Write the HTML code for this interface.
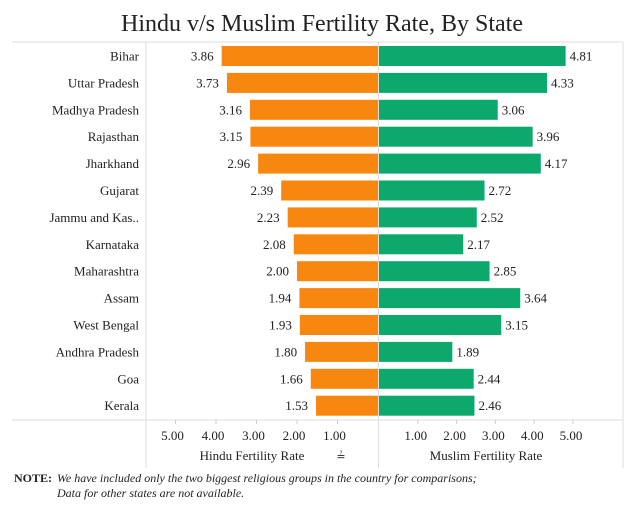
<!DOCTYPE html>
<html><head><meta charset="utf-8"><style>
body{margin:0;background:#fff;font-family:"Liberation Serif",serif;}
svg text{font-family:"Liberation Serif",serif;fill:#222;}
</style></head><body>
<svg width="643" height="504">
<text x="322" y="31" font-size="24" text-anchor="middle">Hindu v/s Muslim Fertility Rate, By State</text>
<g id="frame">
<line x1="12" y1="42" x2="623" y2="42" stroke="#ddd"/>
<line x1="146" y1="42" x2="146" y2="468" stroke="#ddd"/>
<line x1="623" y1="42" x2="623" y2="468" stroke="#ddd"/>
<line x1="378.5" y1="42" x2="378.5" y2="468" stroke="#ddd"/>
<line x1="12" y1="420" x2="623" y2="420" stroke="#ddd"/>
</g>
<g id="marks"></g>
<text x="252" y="460" font-size="13" text-anchor="middle">Hindu Fertility Rate</text>
<text x="341" y="460" font-size="11" text-anchor="middle">≟</text>
<text x="486" y="460" font-size="13" text-anchor="middle">Muslim Fertility Rate</text>
<text x="14" y="482" font-size="12" font-weight="bold">NOTE:</text>
<text x="57" y="482" font-size="12" font-style="italic">We have included only the two biggest religious groups in the country for comparisons;</text>
<text x="57" y="497" font-size="12" font-style="italic">Data for other states are not available.</text>
</svg>
<script>
const states=["Bihar","Uttar Pradesh","Madhya Pradesh","Rajasthan","Jharkhand","Gujarat","Jammu and Kas..","Karnataka","Maharashtra","Assam","West Bengal","Andhra Pradesh","Goa","Kerala"];
const hindu=[3.86,3.73,3.16,3.15,2.96,2.39,2.23,2.08,2.00,1.94,1.93,1.80,1.66,1.53];
const muslim=[4.81,4.33,3.06,3.96,4.17,2.72,2.52,2.17,2.85,3.64,3.15,1.89,2.44,2.46];
const ticks=[1,2,3,4,5];
const NS="http://www.w3.org/2000/svg";
const g=document.getElementById('marks');
const cx=378;
const xL=v=>cx-v*40.5, xR=v=>cx+1+v*38.8;
const yC=i=>56+i*26.9;
function mk(t,a){const e=document.createElementNS(NS,t);for(const k in a)e.setAttribute(k,a[k]);g.appendChild(e);return e;}
states.forEach((s,i)=>{
 const y=yC(i);
 let t=mk('text',{x:139,y:y+4.5,'font-size':13,'text-anchor':'end'});t.textContent=s;
 
 
 let r=mk('rect',{x:xL(hindu[i]),y:y-10,width:cx-xL(hindu[i]),height:20,fill:'#F8870F'});
 
 
 t=mk('text',{x:xL(hindu[i])-8,y:y+4.5,'font-size':13,'text-anchor':'end'});t.textContent=hindu[i].toFixed(2);
 
 
 r=mk('rect',{x:cx+1,y:y-10,width:xR(muslim[i])-cx-1,height:20,fill:'#0DA86C'});
 
 
 t=mk('text',{x:xR(muslim[i])+4,y:y+4.5,'font-size':13});t.textContent=muslim[i].toFixed(2);
 
 
});
ticks.forEach(v=>{
 let l=mk('line',{x1:xL(v),x2:xL(v),y1:420,y2:424,stroke:'#ccc'});
 
 
 let t=mk('text',{x:xL(v)-3,y:440,'font-size':13,'text-anchor':'middle'});t.textContent=v.toFixed(2);
 
 
 l=mk('line',{x1:xR(v),x2:xR(v),y1:420,y2:424,stroke:'#ccc'});
 
 
 t=mk('text',{x:xR(v)-2,y:440,'font-size':13,'text-anchor':'middle'});t.textContent=v.toFixed(2);
 
 
});
</script>
</body></html>
